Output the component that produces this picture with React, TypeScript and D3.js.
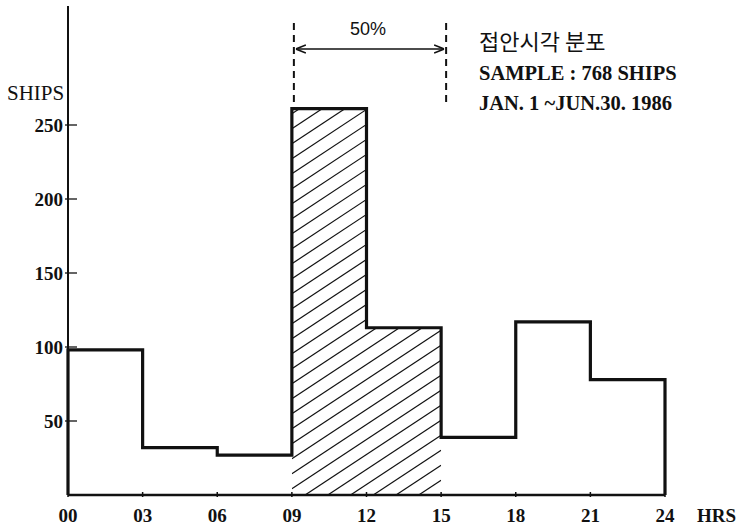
import React from "react";
import * as d3 from "d3";

const binStarts = [0, 3, 6, 9, 12, 15, 18, 21];
const shipCounts = [98, 32, 27, 261, 113, 39, 117, 78];
const xTickLabels = ["00", "03", "06", "09", "12", "15", "18", "21", "24"];
const yTicks = [50, 100, 150, 200, 250];
const highlightRange = [9, 15];
const titleLines = ["접안시각 분포", "SAMPLE : 768 SHIPS", "JAN. 1 ~JUN.30. 1986"];

const W = 740;
const H = 526;

export default function App() {
  const x = d3.scaleLinear().domain([0, 24]).range([68, 665]);
  const y = d3.scaleLinear().domain([0, 250]).range([495, 125]);

  const pts: [number, number][] = [[0, 0]];
  binStarts.forEach((s, i) => pts.push([s, shipCounts[i]]));
  pts.push([24, shipCounts[shipCounts.length - 1]]);
  pts.push([24, 0]);
  const line = d3
    .line<[number, number]>()
    .x((d) => x(d[0]))
    .y((d) => y(d[1]))
    .curve(d3.curveStepAfter);

  const hpts: [number, number][] = [];
  binStarts.forEach((s, i) => {
    if (s >= highlightRange[0] && s < highlightRange[1]) {
      hpts.push([s, shipCounts[i]]);
      hpts.push([s + 3, shipCounts[i]]);
    }
  });
  const area = d3
    .area<[number, number]>()
    .x((d) => x(d[0]))
    .y0(y(0))
    .y1((d) => y(d[1]));

  const serif = "'Liberation Serif', 'DejaVu Serif', serif";
  const x9 = x(highlightRange[0]);
  const x15 = x(highlightRange[1]);
  const arrowY = 49;

  // hatch lines rising to the right
  const slope = 0.66;
  const span = x15 - x9;
  const hatchTop = y(d3.max(shipCounts) as number);
  const hatchCs = d3.range(hatchTop - 10, y(0) + slope * span + 15, 15);

  return (
    <svg width={W} height={H} style={{ position: "absolute", left: 0, top: 0, background: "#fff" }}>
      <defs>
        <clipPath id="hclip">
          <path d={area(hpts) || ""} />
        </clipPath>
        <marker id="ah" viewBox="0 0 10 10" refX={10} refY={5} markerWidth={10} markerHeight={10} orient="auto-start-reverse" markerUnits="userSpaceOnUse">
          <path d="M0,1 L10,5 L0,9" fill="none" stroke="#111" strokeWidth={1.6} />
        </marker>
      </defs>

      {/* hatched area */}
      <g clipPath="url(#hclip)">
        {hatchCs.map((c, i) => (
          <line key={i} x1={x9} y1={c} x2={x15} y2={c - slope * span} stroke="#111" strokeWidth={1.2} />
        ))}
      </g>

      {/* y axis */}
      <line x1={x(0)} y1={6} x2={x(0)} y2={y(0)} stroke="#111" strokeWidth={2} />
      {yTicks.map((t) => (
        <g key={t}>
          <line x1={x(0) - 3} x2={x(0) + 9} y1={y(t)} y2={y(t)} stroke="#111" strokeWidth={1.3} />
          <text x={x(0) - 5} y={y(t) + 7} textAnchor="end" fontFamily={serif} fontWeight="bold" fontSize={19} fill="#111">
            {t}
          </text>
        </g>
      ))}
      <text x={7} y={100} fontFamily={serif} fontSize={21} fill="#111">SHIPS</text>

      {/* x axis */}
      <line x1={x(0)} y1={y(0)} x2={x(24)} y2={y(0)} stroke="#111" strokeWidth={2.5} />
      {xTickLabels.map((lab, i) => (
        <g key={lab}>
          <line x1={x(i * 3)} x2={x(i * 3)} y1={y(0) - 3} y2={y(0) + 2} stroke="#111" strokeWidth={1.5} />
          <text x={x(i * 3)} y={522} textAnchor="middle" fontFamily={serif} fontWeight="bold" fontSize={19} fill="#111">
            {lab}
          </text>
        </g>
      ))}
      <text x={697} y={522} fontFamily={serif} fontWeight="bold" fontSize={19} fill="#111">HRS</text>

      {/* step outline */}
      <path d={line(pts) || ""} fill="none" stroke="#111" strokeWidth={3.2} strokeLinejoin="miter" />

      {/* 50% marker */}
      <line x1={x9 + 2} x2={x9 + 2} y1={23} y2={y(shipCounts[3])} stroke="#111" strokeWidth={2} strokeDasharray="7,5" />
      <line x1={x15 + 5} x2={x15 + 5} y1={23} y2={102} stroke="#111" strokeWidth={2} strokeDasharray="7,5" />
      <line x1={x9 + 4} x2={x15 + 3} y1={arrowY} y2={arrowY} stroke="#111" strokeWidth={1.4} markerStart="url(#ah)" markerEnd="url(#ah)" />
      <text x={368} y={35} textAnchor="middle" fontFamily="'Liberation Sans', Arial, sans-serif" fontSize={18} fill="#111">50%</text>

      {/* title block */}
      <text x={479} y={50} fontFamily="'Noto Sans CJK KR', sans-serif" fontSize={22} fill="#111">{titleLines[0]}</text>
      <text x={479} y={80} fontFamily={serif} fontWeight="bold" fontSize={20.5} fill="#111">{titleLines[1]}</text>
      <text x={479} y={110} fontFamily={serif} fontWeight="bold" fontSize={20.5} fill="#111">{titleLines[2]}</text>
    </svg>
  );
}
